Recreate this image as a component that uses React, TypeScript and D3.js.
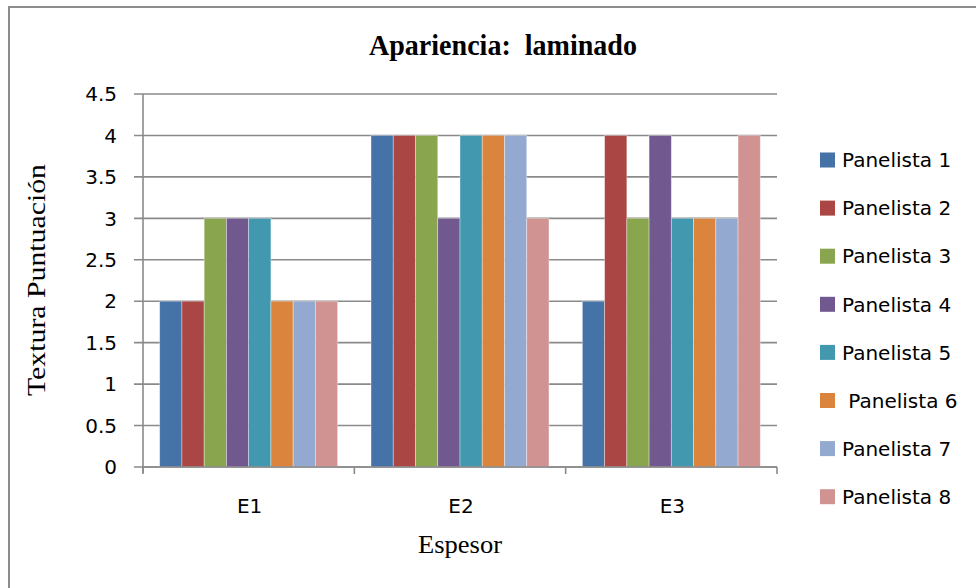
import React from "react";
import * as d3 from "d3";

const categories = ["E1", "E2", "E3"];
const seriesNames = [
  "Panelista 1",
  "Panelista 2",
  "Panelista 3",
  "Panelista 4",
  "Panelista 5",
  " Panelista 6",
  "Panelista 7",
  "Panelista 8",
];
const panelista1 = [2, 4, 2];
const panelista2 = [2, 4, 4];
const panelista3 = [3, 4, 3];
const panelista4 = [3, 3, 4];
const panelista5 = [3, 4, 3];
const panelista6 = [2, 4, 3];
const panelista7 = [2, 4, 3];
const panelista8 = [2, 3, 4];
const seriesValues = [
  panelista1,
  panelista2,
  panelista3,
  panelista4,
  panelista5,
  panelista6,
  panelista7,
  panelista8,
];
const colors = [
  "#4572A7",
  "#AA4643",
  "#89A54E",
  "#71588F",
  "#4198AF",
  "#DB843D",
  "#93A9CF",
  "#D19392",
];
const yTicks = [0, 0.5, 1, 1.5, 2, 2.5, 3, 3.5, 4, 4.5];
const title = "Apariencia:  laminado";
const yTitle = "Textura Puntuación";
const xTitle = "Espesor";

export default function App() {
  const W = 976;
  const H = 588;
  const left = 143;
  const right = 777;
  const top = 94;
  const bottom = 467;

  const y = d3.scaleLinear().domain([0, 4.5]).range([bottom, top]);
  const x0 = d3.scaleBand().domain(categories).range([left, right]).padding(0);
  const bw = x0.bandwidth();
  const groupW = (bw * 8) / 9.5;
  const x1 = d3
    .scaleBand()
    .domain(seriesNames.map((_, i) => String(i)))
    .range([0, groupW])
    .padding(0);

  const sans = "'DejaVu Sans', sans-serif";
  const serif = "'Liberation Serif', 'Times New Roman', serif";
  const boundaries = [...categories.map((c) => x0(c) as number), right];

  return (
    <svg
      width={W}
      height={H}
      style={{ position: "absolute", left: 0, top: 0, background: "#fff" }}
    >
      <rect x={0} y={0} width={W} height={H} fill="#fff" />
      <rect x={9} y={7} width={W + 20} height={H + 20} fill="none" stroke="#8c8c8c" strokeWidth={2} />

      <text
        x={503}
        y={55}
        textAnchor="middle"
        fontFamily={serif}
        fontWeight="bold"
        fontSize={29}
        textLength={268}
        lengthAdjust="spacingAndGlyphs"
        style={{ whiteSpace: "pre" }}
      >
        {title}
      </text>

      {/* gridlines */}
      {yTicks.map((t) => (
        <line key={"g" + t} x1={left - 9} x2={right} y1={y(t)} y2={y(t)} stroke="#8a8a8a" strokeWidth={1.6} />
      ))}
      {/* y axis */}
      <line x1={left} x2={left} y1={top} y2={bottom + 6} stroke="#8a8a8a" strokeWidth={1.6} />
      {yTicks.map((t) => (
        <text key={"yl" + t} x={117} y={y(t)} dy="0.36em" textAnchor="end" fontFamily={sans} fontSize={20} fill="#000">
          {String(t)}
        </text>
      ))}

      {/* bars */}
      {categories.map((c, ci) => (
        <g key={c} transform={`translate(${(x0(c) as number) + (bw - groupW) / 2},0)`}>
          {seriesValues.map((vals, si) => (
            <rect
              key={si}
              x={x1(String(si)) as number}
              y={y(vals[ci])}
              width={x1.bandwidth()}
              height={y(0) - y(vals[ci])}
              fill={colors[si]}
              stroke="rgba(255,255,255,0.45)"
              strokeWidth={0.8}
            />
          ))}
        </g>
      ))}

      {/* x axis */}
      <line x1={left} x2={right} y1={bottom} y2={bottom} stroke="#8a8a8a" strokeWidth={1.6} />
      {boundaries.map((b, i) => (
        <line key={"xt" + i} x1={b} x2={b} y1={bottom} y2={bottom + 7} stroke="#8a8a8a" strokeWidth={1.6} />
      ))}
      {categories.map((c) => (
        <text
          key={"xl" + c}
          x={(x0(c) as number) + bw / 2 + 1}
          y={513}
          textAnchor="middle"
          fontFamily={sans}
          fontSize={20}
        >
          {c}
        </text>
      ))}

      <text
        x={460}
        y={553}
        textAnchor="middle"
        fontFamily={serif}
        fontSize={25}
        textLength={84}
        lengthAdjust="spacingAndGlyphs"
      >
        {xTitle}
      </text>
      <text
        transform="translate(45,280) rotate(-90)"
        textAnchor="middle"
        fontFamily={serif}
        fontSize={25}
        textLength={232}
        lengthAdjust="spacingAndGlyphs"
      >
        {yTitle}
      </text>

      {/* legend */}
      {seriesNames.map((s, i) => {
        const cy = 160 + i * 48.1;
        return (
          <g key={"lg" + i}>
            <rect x={820} y={cy - 7.5} width={15} height={15} fill={colors[i]} />
            <text x={842} y={cy} dy="0.36em" fontFamily={sans} fontSize={20} style={{ whiteSpace: "pre" }}>
              {s}
            </text>
          </g>
        );
      })}
    </svg>
  );
}
